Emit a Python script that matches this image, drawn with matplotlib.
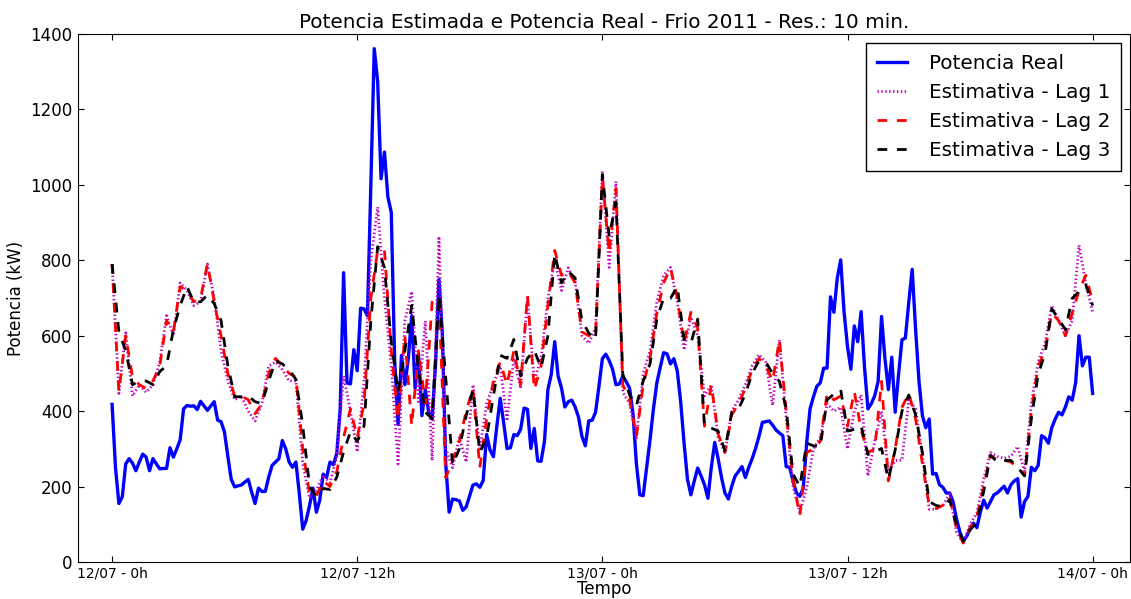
import matplotlib
matplotlib.use('Agg')
import matplotlib.pyplot as plt
import numpy as np

# Potencia real, resolucao de 10 min (12/07 0h ate 14/07 0h)
potencia_real = [
    418, 250, 155, 173, 260, 274, 262, 242, 265, 286, 278, 242,
    274, 260, 247, 248, 248, 303, 278, 300, 324, 406, 415, 413,
    414, 404, 426, 414, 402, 414, 425, 376, 372, 345, 280, 219,
    199, 202, 204, 212, 219, 185, 155, 196, 187, 187, 225, 256,
    265, 274, 322, 300, 265, 251, 265, 180, 87, 110, 150, 196,
    132, 164, 233, 224, 265, 258, 288, 406, 767, 475, 472, 563,
    507, 673, 671, 653, 1000, 1361, 1274, 1016, 1087, 968, 927, 534,
    365, 548, 470, 539, 653, 461, 552, 388, 457, 397, 379, 525,
    749, 607, 260, 132, 167, 165, 162, 137, 146, 175, 204, 207,
    198, 216, 338, 297, 279, 360, 434, 370, 301, 303, 338, 335,
    352, 408, 405, 301, 354, 268, 267, 320, 457, 498, 584, 493,
    461, 411, 425, 429, 411, 384, 333, 308, 374, 376, 397, 466,
    539, 551, 534, 511, 470, 472, 493, 478, 461, 393, 260, 178,
    176, 251, 324, 406, 475, 516, 555, 552, 525, 539, 507, 425,
    315, 219, 178, 215, 249, 228, 205, 169, 251, 317, 274, 224,
    183, 167, 201, 228, 240, 253, 224, 251, 274, 301, 333, 370,
    372, 374, 363, 350, 342, 335, 253, 251, 215, 183, 174, 196,
    315, 406, 438, 466, 475, 514, 514, 703, 662, 753, 801, 662,
    571, 511, 626, 584, 664, 516, 406, 420, 441, 479, 651, 539,
    457, 543, 397, 498, 589, 594, 689, 776, 617, 479, 388, 356,
    379, 233, 235, 205, 198, 183, 183, 160, 115, 80, 55, 68,
    89, 103, 91, 132, 164, 143, 160, 178, 183, 192, 201, 183,
    205, 215, 221, 119, 160, 174, 251, 242, 256, 335, 329, 315,
    356, 379, 397, 390, 411, 438, 429, 475, 600, 520, 543, 543,
    447,
]

# Estimativas (lidas a cada 20 min)
est_lag1 = [
    790, 447, 608, 440, 470, 450, 470, 530, 653, 600, 740, 720,
    680, 690, 790, 700, 560, 480, 430, 440, 400, 374, 420, 520,
    530, 510, 480, 480, 260, 170, 190, 230, 210, 280, 493, 400,
    292, 480, 800, 941, 700, 520, 260, 640, 717, 420, 639, 269,
    863, 300, 250, 330, 265, 470, 300, 420, 470, 520, 374, 540,
    460, 700, 480, 540, 700, 800, 720, 780, 744, 600, 580, 620,
    1036, 781, 1009, 450, 420, 329, 500, 560, 690, 760, 781, 690,
    562, 650, 600, 440, 470, 330, 290, 400, 430, 470, 520, 550,
    530, 415, 589, 380, 200, 132, 196, 300, 330, 420, 400, 410,
    300, 400, 443, 228, 320, 400, 240, 269, 270, 430, 406, 280,
    140, 140, 150, 180, 80, 50, 100, 130, 220, 290, 280, 275,
    280, 306, 240, 420, 530, 580, 680, 640, 600, 640, 840, 740,
    662,
]
est_lag2 = [
    790, 452, 600, 490, 470, 460, 480, 520, 640, 610, 730, 720,
    690, 700, 790, 690, 600, 500, 440, 440, 430, 393, 420, 500,
    540, 520, 500, 490, 300, 180, 175, 215, 200, 240, 330, 406,
    330, 420, 700, 826, 826, 560, 380, 600, 361, 560, 420, 689,
    700, 224, 270, 320, 400, 460, 250, 380, 480, 530, 470, 560,
    470, 708, 457, 520, 680, 826, 760, 770, 740, 610, 600, 600,
    1020, 820, 990, 470, 430, 333, 470, 540, 660, 740, 780, 700,
    580, 662, 620, 360, 470, 340, 290, 390, 420, 460, 510, 540,
    520, 480, 589, 400, 220, 123, 290, 300, 320, 447, 430, 440,
    360, 452, 350, 290, 300, 479, 215, 300, 410, 447, 380, 260,
    150, 142, 150, 170, 90, 50, 90, 120, 200, 283, 270, 270,
    265, 250, 230, 400, 520, 560, 660, 640, 600, 660, 720, 760,
    690,
]
est_lag3 = [
    790, 610, 560, 470, 480, 480, 470, 505, 520, 616, 680, 730,
    689, 690, 708, 685, 640, 520, 438, 438, 440, 425, 420, 480,
    534, 525, 510, 484, 361, 200, 174, 195, 192, 225, 292, 345,
    320, 360, 640, 836, 780, 584, 450, 560, 680, 510, 397, 380,
    708, 488, 258, 300, 388, 457, 290, 330, 440, 548, 540, 590,
    493, 540, 561, 515, 600, 817, 740, 770, 753, 640, 607, 590,
    1027, 863, 954, 498, 443, 415, 480, 525, 644, 700, 699, 730,
    590, 580, 644, 361, 355, 347, 295, 397, 406, 445, 500, 534,
    530, 500, 479, 406, 233, 200, 315, 308, 306, 430, 445, 457,
    347, 352, 361, 285, 292, 301, 219, 297, 400, 443, 390, 290,
    160, 150, 146, 165, 100, 55, 85, 105, 187, 283, 265, 269,
    269, 251, 228, 379, 498, 552, 671, 644, 616, 699, 717, 735,
    680,
]

tick_pos = [0, 72, 144, 216, 288]
tick_labels = ['12/07 - 0h', '12/07 -12h', '13/07 - 0h', '13/07 - 12h', '14/07 - 0h']

t_real = np.arange(len(potencia_real))
t_est = np.arange(len(est_lag1)) * 2

fig = plt.figure(figsize=(11.31, 5.99), dpi=100)
ax = fig.add_axes([0.069, 0.0618, 0.9302, 0.8815])

ax.plot(t_real, potencia_real, color='b', lw=2.4, label='Potencia Real')
ax.plot(t_est, est_lag1, color='m', lw=2, ls=':', dashes=(0.5, 0.9), label='Estimativa - Lag 1')
ax.plot(t_est, est_lag2, color='r', lw=2, ls='--', dashes=(3.5, 3.5), label='Estimativa - Lag 2')
ax.plot(t_est, est_lag3, color='k', lw=2, ls='--', dashes=(3.5, 3.5), label='Estimativa - Lag 3')

ax.set_xlim(-10, 299)
ax.set_ylim(0, 1400)
ax.set_yticks(range(0, 1401, 200))
ax.set_xticks(tick_pos)
ax.set_xticklabels(tick_labels)
ax.tick_params(direction='in', top=True, right=True, length=4, pad=4)
ax.tick_params(axis='x', labelsize=10, pad=3)
ax.tick_params(axis='y', labelsize=12)

ax.set_title('Potencia Estimada e Potencia Real - Frio 2011 - Res.: 10 min.', fontsize=14.4, pad=4)
ax.set_xlabel('Tempo', fontsize=12, labelpad=0)
ax.set_ylabel('Potencia (kW)', fontsize=12)

leg = ax.legend(loc='upper right', fontsize=14.4, fancybox=False, framealpha=1,
                edgecolor='black', handlelength=1.5, handletextpad=1.1,
                labelspacing=0.5, borderpad=0.55, borderaxespad=0.45)
leg.get_frame().set_linewidth(1)

fig.savefig('out.png', dpi=100, facecolor='white')
